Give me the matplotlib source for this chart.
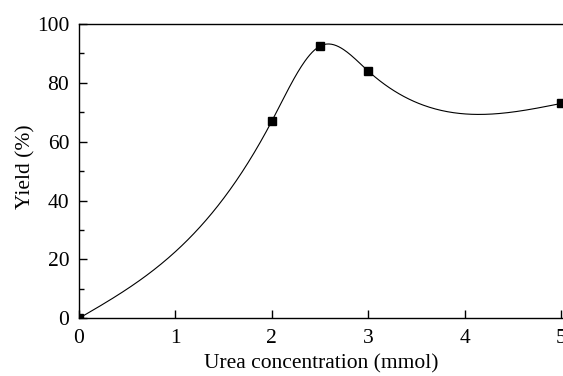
import numpy as np
import matplotlib
matplotlib.use("Agg")
import matplotlib.pyplot as plt
from matplotlib.ticker import MultipleLocator

conc = [0, 2, 2.5, 3, 5]
yield_pct = [0, 67, 92.5, 84, 73]

def natural_spline(x, y, xs):
    x = np.asarray(x, float); y = np.asarray(y, float)
    n = len(x)
    h = np.diff(x)
    A = np.zeros((n, n)); b = np.zeros(n)
    A[0, 0] = 1; A[-1, -1] = 1
    for i in range(1, n - 1):
        A[i, i - 1] = h[i - 1]
        A[i, i] = 2 * (h[i - 1] + h[i])
        A[i, i + 1] = h[i]
        b[i] = 6 * ((y[i + 1] - y[i]) / h[i] - (y[i] - y[i - 1]) / h[i - 1])
    M = np.linalg.solve(A, b)
    out = np.empty_like(xs)
    for k, xv in enumerate(xs):
        i = min(max(np.searchsorted(x, xv) - 1, 0), n - 2)
        t1 = x[i + 1] - xv; t0 = xv - x[i]
        out[k] = (M[i] * t1**3 + M[i + 1] * t0**3) / (6 * h[i]) \
            + (y[i] / h[i] - M[i] * h[i] / 6) * t1 \
            + (y[i + 1] / h[i] - M[i + 1] * h[i] / 6) * t0
    return out

plt.rcParams['font.family'] = ['Liberation Serif']
fig = plt.figure(figsize=(5.63, 3.76), dpi=100)
ax = fig.add_axes([79/563, 57.7/376, 484/563, 294.3/376])

xs = np.linspace(conc[0], conc[-1], 400)
ax.plot(xs, natural_spline(conc, yield_pct, xs), color='black', lw=0.8)
ax.plot(conc, yield_pct, linestyle='none', marker='s', ms=5.8, color='black')

ax.set_xlim(0, 5.02)
ax.set_ylim(0, 100)
ax.set_xticks([0, 1, 2, 3, 4, 5])
ax.set_yticks([0, 20, 40, 60, 80, 100])
ax.yaxis.set_minor_locator(MultipleLocator(10))
ax.tick_params(axis='both', which='major', direction='in', length=6, width=1, labelsize=15.5)
ax.tick_params(axis='x', which='major', pad=8)
ax.tick_params(axis='y', which='major', pad=7)
ax.tick_params(axis='y', which='minor', direction='in', length=3.5, width=1)
ax.spines['right'].set_visible(False)
for s in ['left', 'bottom', 'top']:
    ax.spines[s].set_linewidth(1.0)
ax.set_xlabel('Urea concentration (mmol)', fontsize=15.5, labelpad=4)
ax.set_ylabel('Yield (%)', fontsize=15.5)
ax.yaxis.set_label_coords(-0.089, 0.516)

fig.savefig('out.png', dpi=100)
